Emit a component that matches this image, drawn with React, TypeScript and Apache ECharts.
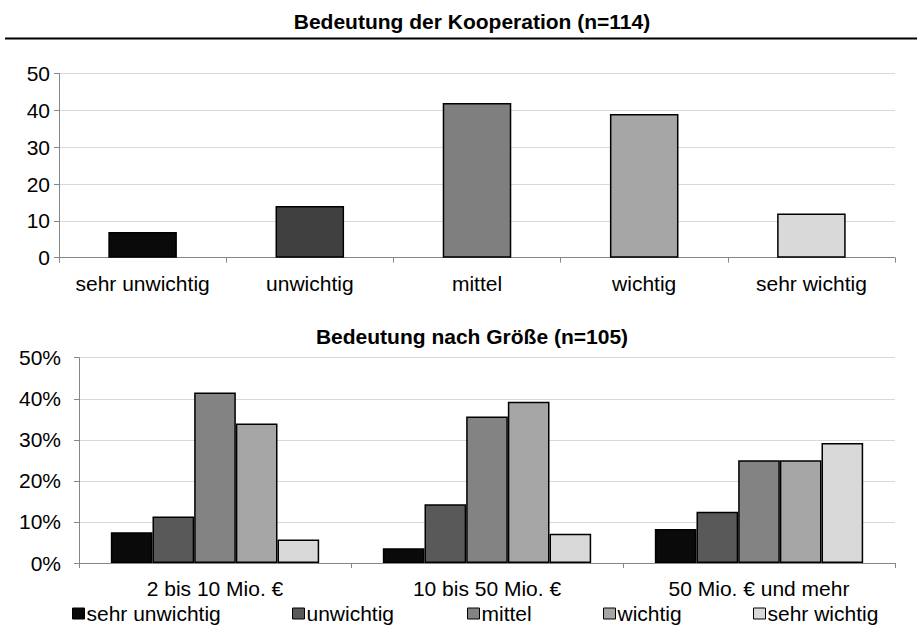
import React, { useEffect, useRef } from "react";
import * as echarts from "echarts";

const topTitle = "Bedeutung der Kooperation (n=114)";
const bottomTitle = "Bedeutung nach Größe (n=105)";
const topCategories = ["sehr unwichtig", "unwichtig", "mittel", "wichtig", "sehr wichtig"];
const topValues = [7, 14, 42, 39, 12];
const sizeCategories = ["2 bis 10 Mio. €", "10 bis 50 Mio. €", "50 Mio. € und mehr"];
const seriesNames = ["sehr unwichtig", "unwichtig", "mittel", "wichtig", "sehr wichtig"];
const sehrUnwichtig = [7.5, 3.6, 8.3];
const unwichtig = [11.3, 14.3, 12.5];
const mittel = [41.5, 35.7, 25.0];
const wichtig = [34.0, 39.3, 25.0];
const sehrWichtig = [5.7, 7.1, 29.2];
const sizeValues = [sehrUnwichtig, unwichtig, mittel, wichtig, sehrWichtig];

const topColors = ["#0a0a0a", "#404040", "#7f7f7f", "#a6a6a6", "#d9d9d9"];
const sizeColors = ["#0a0a0a", "#595959", "#838383", "#a6a6a6", "#d9d9d9"];
const legendLefts = [72, 292, 467, 603, 753];

const FONT = "'Liberation Sans', Arial, sans-serif";
const FS = 21;
const AXIS = "#868686";
const GRID = "#d9d9d9";

export default function App() {
  const ref = useRef<HTMLDivElement>(null);
  useEffect(() => {
    if (!ref.current) return;
    const chart = echarts.init(ref.current, null, { renderer: "svg" });
    const axisLabel = { color: "#000", fontSize: FS, fontFamily: FONT, interval: 0 };
    const option: any = {
      animation: false,
      textStyle: { fontFamily: FONT },
      grid: [
        { left: 59, right: 22, top: 73.5, height: 184.2 },
        { left: 79, right: 22, top: 357.7, height: 205.3 },
      ],
      xAxis: [
        {
          gridIndex: 0,
          type: "category",
          data: topCategories,
          axisLine: { lineStyle: { color: AXIS, width: 1 } },
          axisTick: { show: true, length: 5, lineStyle: { color: AXIS } },
          axisLabel: { ...axisLabel, margin: 15 },
        },
        {
          gridIndex: 1,
          type: "category",
          data: sizeCategories,
          axisLine: { lineStyle: { color: AXIS, width: 1 } },
          axisTick: { show: true, length: 5, lineStyle: { color: AXIS } },
          axisLabel: { ...axisLabel, margin: 15 },
        },
      ],
      yAxis: [
        {
          gridIndex: 0,
          type: "value",
          min: 0,
          max: 50,
          interval: 10,
          axisLine: { show: true, lineStyle: { color: AXIS, width: 1 } },
          axisTick: { show: true, length: 5, lineStyle: { color: AXIS } },
          splitLine: { lineStyle: { color: GRID, width: 1.2 } },
          axisLabel: { color: "#000", fontSize: FS, fontFamily: FONT, margin: 9 },
        },
        {
          gridIndex: 1,
          type: "value",
          min: 0,
          max: 50,
          interval: 10,
          axisLine: { show: true, lineStyle: { color: AXIS, width: 1 } },
          axisTick: { show: true, length: 5, lineStyle: { color: AXIS } },
          splitLine: { lineStyle: { color: GRID, width: 1.2 } },
          axisLabel: { color: "#000", fontSize: FS, fontFamily: FONT, margin: 18, formatter: "{value}%" },
        },
      ],
      legend: seriesNames.map((n, i) => ({
        data: [n],
        left: legendLefts[i],
        top: 603,
        padding: 0,
        itemWidth: 12,
        itemHeight: 11,
        icon: "rect",
        itemStyle: { borderColor: "#000", borderWidth: 1 },
        textStyle: {
          color: "#000",
          fontSize: FS,
          fontFamily: FONT,
          lineHeight: 20,
          padding: [0, 0, 0, -3],
        },
        selectedMode: false,
      })),
      graphic: [
        {
          type: "text",
          x: 472,
          y: 21,
          style: {
            text: topTitle,
            fontSize: FS,
            fontWeight: "bold",
            fontFamily: FONT,
            fill: "#000",
            textAlign: "center",
            textVerticalAlign: "middle",
          },
        },
        {
          type: "line",
          shape: { x1: 5, y1: 38.5, x2: 917, y2: 38.5 },
          style: { stroke: "#000", lineWidth: 2 },
        },
        {
          type: "text",
          x: 472,
          y: 336,
          style: {
            text: bottomTitle,
            fontSize: FS,
            fontWeight: "bold",
            fontFamily: FONT,
            fill: "#000",
            textAlign: "center",
            textVerticalAlign: "middle",
          },
        },
      ],
      series: [
        {
          type: "bar",
          xAxisIndex: 0,
          yAxisIndex: 0,
          barWidth: "41%",
          data: topValues.map((v, i) => ({
            value: v,
            itemStyle: { color: topColors[i] },
          })),
          itemStyle: { borderColor: "#000", borderWidth: 1.5 },
        },
        ...seriesNames.map((n, i) => ({
          type: "bar",
          name: n,
          xAxisIndex: 1,
          yAxisIndex: 1,
          barGap: "0%",
          barCategoryGap: "23.4%",
          data: sizeValues[i],
          itemStyle: { color: sizeColors[i], borderColor: "#000", borderWidth: 1.5 },
        })),
      ],
    };
    chart.setOption(option);
    return () => chart.dispose();
  }, []);
  return (
    <div
      ref={ref}
      style={{ position: "absolute", left: 0, top: 0, width: 917, height: 625, background: "#fff" }}
    />
  );
}
